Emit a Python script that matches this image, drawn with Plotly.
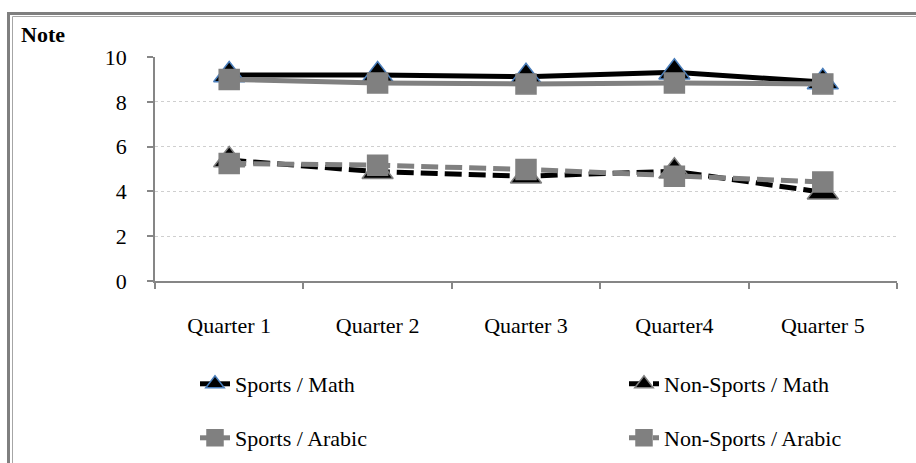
import plotly.graph_objects as go

# ---- data -------------------------------------------------------------
quarters = ["Quarter 1", "Quarter 2", "Quarter 3", "Quarter4", "Quarter 5"]
sports_math = [9.2, 9.2, 9.12, 9.32, 8.88]
nonsports_math = [5.4, 4.88, 4.68, 4.9, 3.96]
sports_arabic = [9.0, 8.84, 8.8, 8.84, 8.8]
nonsports_arabic = [5.25, 5.17, 4.98, 4.68, 4.42]
y_ticks = [0, 2, 4, 6, 8, 10]

# ---- page geometry ----------------------------------------------------
W, H = 916, 463
M = dict(l=155, r=19, t=57, b=182)
PW = W - M["l"] - M["r"]
PH = H - M["t"] - M["b"]
FONT = "Liberation Serif"
FS = 22
AXIS_GREY = "#868686"
BLACK = "#000000"
GREY = "#808080"
BLUE = "#4a7ebb"


def px_x(x):
    return (x - M["l"]) / PW


def px_y(y):
    return (H - M["b"] - y) / PH


fig = go.Figure()

series = [
    dict(name="Sports / Math", y=sports_math, color=BLACK, dash="solid",
         symbol="triangle-up", msize=27, mline=BLUE, legend="legend"),
    dict(name="Non-Sports / Math", y=nonsports_math, color=BLACK, dash="17px,7px",
         symbol="triangle-up", msize=27, mline=GREY, legend="legend2"),
    dict(name="Sports / Arabic", y=sports_arabic, color=GREY, dash="solid",
         symbol="square", msize=20, mline=GREY, legend="legend3"),
    dict(name="Non-Sports / Arabic", y=nonsports_arabic, color=GREY, dash="17px,7px",
         symbol="square", msize=20, mline=GREY, legend="legend4"),
]

for s in series:
    fig.add_trace(go.Scatter(
        x=quarters, y=s["y"], name=s["name"], mode="lines+markers",
        line=dict(color=s["color"], width=5, dash=s["dash"]),
        marker=dict(symbol=s["symbol"], size=s["msize"], color=s["color"],
                    line=dict(color=s["mline"], width=1.5)),
        legend=s["legend"], showlegend=True,
    ))


def legend_at(x_px, y_px):
    return dict(x=px_x(x_px), y=px_y(y_px), xanchor="left", yanchor="middle",
                orientation="v", bgcolor="rgba(0,0,0,0)", borderwidth=0,
                visible=True,
                font=dict(family=FONT, size=FS, color="black"))


# double frame around the chart
frame = [
    dict(type="rect", xref="paper", yref="paper",
         x0=px_x(8.5), y0=px_y(480), x1=px_x(960), y1=px_y(13.5),
         line=dict(color="#7f7f7f", width=3), fillcolor="rgba(0,0,0,0)", layer="below"),
    dict(type="rect", xref="paper", yref="paper",
         x0=px_x(12.5), y0=px_y(480), x1=px_x(960), y1=px_y(16.5),
         line=dict(color="#a6a6a6", width=1), fillcolor="rgba(0,0,0,0)", layer="below"),
]

fig.update_layout(
    width=W, height=H, showlegend=True,
    margin=dict(l=M["l"], r=M["r"], t=M["t"], b=M["b"], autoexpand=False),
    paper_bgcolor="white", plot_bgcolor="white",
    font=dict(family=FONT, size=FS, color="black"),
    shapes=frame,
    legend=legend_at(195, 384),
    legend2=legend_at(624, 384),
    legend3=legend_at(195, 438),
    legend4=legend_at(624, 438),
    annotations=[dict(text="<b>Note</b>", xref="paper", yref="paper",
                      x=px_x(19), y=px_y(35), xanchor="left", yanchor="middle",
                      showarrow=False, font=dict(family=FONT, size=FS, color="black"))],
)

fig.update_xaxes(
    type="category", range=[-0.5, len(quarters) - 0.5],
    showline=True, linecolor=AXIS_GREY, linewidth=1.5,
    ticks="outside", tickson="boundaries", ticklen=6, tickcolor=AXIS_GREY, tickwidth=1.5,
    showgrid=False, ticklabelstandoff=24,
    tickfont=dict(family=FONT, size=FS, color="black"),
)
fig.update_yaxes(
    range=[0, 10], tickvals=y_ticks,
    showline=True, linecolor=AXIS_GREY, linewidth=1.5,
    ticks="outside", ticklen=6, tickcolor=AXIS_GREY, tickwidth=1.5,
    showgrid=True, gridcolor="#cfcfcf", gridwidth=1, griddash="dot",
    zeroline=False, ticklabelstandoff=16,
    tickfont=dict(family=FONT, size=FS, color="black"),
)

fig.write_html("out.html")
